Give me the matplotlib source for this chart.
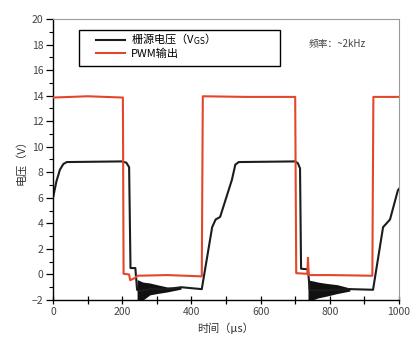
import matplotlib
matplotlib.use('Agg')
import matplotlib.pyplot as plt
from matplotlib.patches import Rectangle
from matplotlib.ticker import MultipleLocator

plt.rcParams['font.family'] = ['Noto Sans CJK SC', 'DejaVu Sans']
plt.rcParams['axes.unicode_minus'] = True

# gate-source voltage (black)
vgs_t = [0, 10, 20, 30, 40, 200, 212, 220, 224, 238, 243, 250, 280, 330, 370, 430,
         460, 470, 483, 517, 527, 537, 700, 708, 714, 717, 737, 742, 770, 820, 860, 925,
         954, 974, 997, 1000]
vgs_v = [6.0, 7.3, 8.2, 8.65, 8.8, 8.85, 8.75, 8.4, 0.5, 0.5, -1.2, -1.3, -1.15, -1.15, -1.0, -1.15,
         3.7, 4.3, 4.5, 7.4, 8.6, 8.8, 8.85, 8.7, 8.3, 0.45, 0.4, -1.2, -1.25, -1.2, -1.15, -1.2,
         3.7, 4.3, 6.6, 6.7]

# ringing envelope after each turn-off
ring1_t = [243, 260, 280, 300, 330, 370]
ring1_hi = [-0.4, -0.6, -0.67, -0.8, -0.98, -1.0]
ring1_lo = [-2.0, -2.0, -1.6, -1.5, -1.37, -1.15]
ring2_t = [737, 750, 766, 790, 821, 858]
ring2_hi = [-0.43, -0.5, -0.6, -0.7, -0.8, -1.06]
ring2_lo = [-2.0, -2.0, -1.84, -1.7, -1.5, -1.3]

# PWM output (red)
pwm_t = [0, 100, 202, 204, 220, 223, 235, 245, 330, 430, 433, 560, 700, 703, 735, 737, 739,
         800, 923, 926, 1000]
pwm_v = [13.85, 13.95, 13.85, 0.05, 0.0, -0.45, -0.3, -0.1, -0.05, -0.15, 13.95, 13.9, 13.9,
         0.1, 0.05, 1.3, -0.05, -0.05, -0.1, 13.9, 13.9]

x_ticks = [0, 200, 400, 600, 800, 1000]
y_ticks = list(range(-2, 21, 2))

fig = plt.figure(figsize=(4.18, 3.5), dpi=100)
ax = fig.add_axes([0.1268, 0.1429, 0.8277, 0.8028])

ax.plot(pwm_t, pwm_v, color='#e2472c', lw=1.5, label='PWM输出', zorder=3)
ax.fill_between(ring1_t, ring1_lo, ring1_hi, color='#111111', lw=0, zorder=2)
ax.fill_between(ring2_t, ring2_lo, ring2_hi, color='#111111', lw=0, zorder=2)
ax.plot(vgs_t, vgs_v, color='#1c1c1c', lw=1.5, label='栅源电压（V$_{\\rm GS}$）', zorder=2)

ax.set_xlim(0, 1000)
ax.set_ylim(-2, 20)
ax.set_xticks(x_ticks)
ax.set_yticks(y_ticks)
ax.xaxis.set_minor_locator(MultipleLocator(100))
ax.yaxis.set_minor_locator(MultipleLocator(1))
ax.tick_params(axis='x', which='both', direction='inout', length=6, width=0.9,
               labelsize=7.5, labelcolor='#444444', pad=2)
ax.tick_params(axis='y', which='major', direction='out', length=5, width=0.9,
               labelsize=7.5, labelcolor='#444444', pad=2)
ax.tick_params(axis='y', which='minor', direction='out', length=3, width=0.8)

for side in ['top', 'right']:
    ax.spines[side].set_color('#9a9a9a')
    ax.spines[side].set_linewidth(0.8)
for side in ['left', 'bottom']:
    ax.spines[side].set_color('black')
    ax.spines[side].set_linewidth(1.0)

ax.set_xlabel('时间（μs）', fontsize=8, color='#333333', labelpad=4)
ax.set_ylabel('电压（V）', fontsize=8, color='#333333', labelpad=4)

# legend: entries indented inside a wider box, like the original
handles, labels = ax.get_legend_handles_labels()
leg = ax.legend(handles[::-1], labels[::-1], loc='upper left',
                bbox_to_anchor=(0.125, 0.955), frameon=False, fontsize=8,
                borderpad=0, labelspacing=0.15, handlelength=2.6,
                handletextpad=0.5, borderaxespad=0)
ax.add_patch(Rectangle((0.075, 0.833), 0.581, 0.128, transform=ax.transAxes,
                       fill=False, edgecolor='black', lw=1.0, zorder=5))

ax.text(0.74, 0.91, '频率：~2kHz', transform=ax.transAxes, fontsize=7,
        color='#444444', va='center')

fig.savefig('out.png', dpi=100)
